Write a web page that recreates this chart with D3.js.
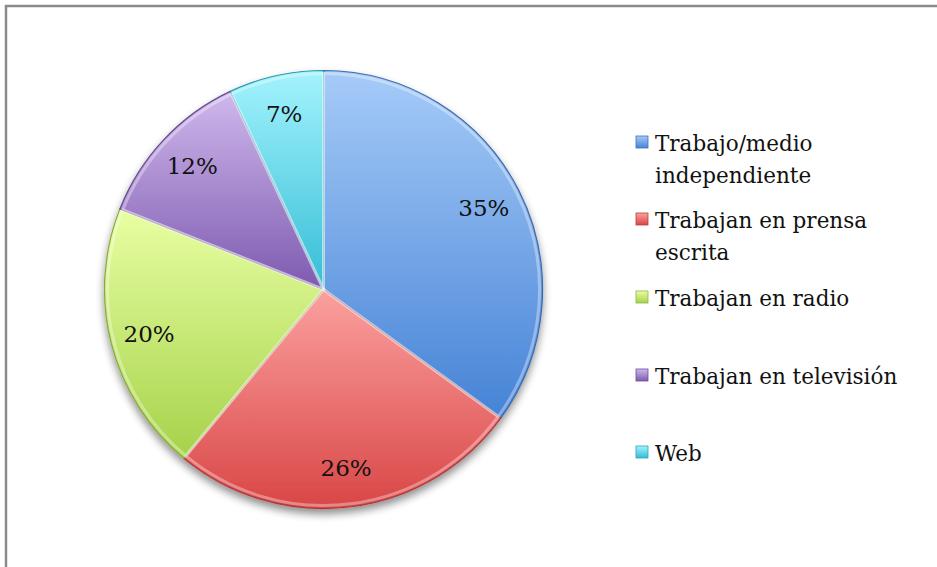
<!DOCTYPE html>
<html><head><meta charset="utf-8">
<script src="https://cdn.jsdelivr.net/npm/d3@7"></script>
<style>html,body{margin:0;padding:0;background:#fff;}svg{display:block;}</style>
</head><body>
<script>
const categories = ["Trabajo/medio independiente","Trabajan en prensa escrita","Trabajan en radio","Trabajan en televisión","Web"];
const values = [35, 26, 20, 12, 7];
const labels = ["35%","26%","20%","12%","7%"];
const legendLines = [["Trabajo/medio","independiente"],["Trabajan en prensa","escrita"],["Trabajan en radio"],["Trabajan en televisión"],["Web"]];
const topColors = ["#a6cbf8","#fba19f","#e8ffa3","#d0b8ec","#a3f3fd"];
const bottomColors = ["#4683d6","#d94646","#a6d24a","#7d5ab0","#35bdd6"];

const W = 937, H = 567;
const svg = d3.select("body").append("svg").attr("width", W).attr("height", H);
const defs = svg.append("defs");

categories.forEach((c, i) => {
  const g = defs.append("linearGradient").attr("id", "g" + i)
    .attr("x1", 0).attr("y1", 0).attr("x2", 0).attr("y2", 1);
  g.append("stop").attr("offset", "0%").attr("stop-color", topColors[i]);
  g.append("stop").attr("offset", "100%").attr("stop-color", bottomColors[i]);
});
const f = defs.append("filter").attr("id", "shadow").attr("x", "-20%").attr("y", "-20%").attr("width", "140%").attr("height", "140%");
f.append("feGaussianBlur").attr("in", "SourceAlpha").attr("stdDeviation", 4).attr("result", "b");
f.append("feOffset").attr("in", "b").attr("dx", 0).attr("dy", 5).attr("result", "o");
f.append("feComponentTransfer").attr("in", "o").attr("result", "o2")
  .append("feFuncA").attr("type", "linear").attr("slope", 0.45);
const fm = f.append("feMerge");
fm.append("feMergeNode").attr("in", "o2");
fm.append("feMergeNode").attr("in", "SourceGraphic");

// border
svg.append("path").attr("d", `M6,${H} L6,6 L${W},6`).attr("fill", "none")
  .attr("stroke", "#8a8a8a").attr("stroke-width", 2.5);

const cx = 323.5, cy = 289.5, R = 219;
const pie = d3.pie().sort(null).value(d => d)(values);
const arc = d3.arc().innerRadius(0).outerRadius(R);
const labelArc = d3.arc().innerRadius(180).outerRadius(180);

const pg = svg.append("g").attr("transform", `translate(${cx},${cy})`);
const shadowG = pg.append("g").attr("filter", "url(#shadow)");
shadowG.selectAll("path").data(pie).join("path")
  .attr("d", arc)
  .attr("fill", (d, i) => `url(#g${i})`)
  .attr("stroke", (d, i) => d3.color(bottomColors[i]).darker(0.6))
  .attr("stroke-width", 1.2);
// bevel highlight
const arcIn = d3.arc().innerRadius(0).outerRadius(R - 3);
pg.selectAll("path.hl").data(pie).join("path").attr("class", "hl")
  .attr("d", arcIn).attr("fill", "none")
  .attr("stroke", "rgba(255,255,255,0.35)").attr("stroke-width", 3);

pg.selectAll("text").data(pie).join("text")
  .attr("transform", d => `translate(${labelArc.centroid(d)})`)
  .attr("text-anchor", "middle").attr("dy", "0.35em")
  .attr("font-family", "DejaVu Serif").attr("font-size", 23).attr("fill", "#111")
  .text((d, i) => labels[i]);

// legend
const legendY = [143, 220, 298, 376, 453];
const lg = svg.append("g");
legendLines.forEach((lines, i) => {
  const y = legendY[i];
  lg.append("rect").attr("x", 636).attr("y", y - 7).attr("width", 12).attr("height", 12)
    .attr("fill", `url(#g${i})`).attr("stroke", d3.color(bottomColors[i]).darker(0.4)).attr("stroke-width", 0.8);
  lines.forEach((t, k) => {
    lg.append("text").attr("x", 655).attr("y", y + k * 32).attr("dy", "0.35em")
      .attr("font-family", "DejaVu Serif").attr("font-size", 21.5).attr("fill", "#111").text(t);
  });
});
</script>
</body></html>
